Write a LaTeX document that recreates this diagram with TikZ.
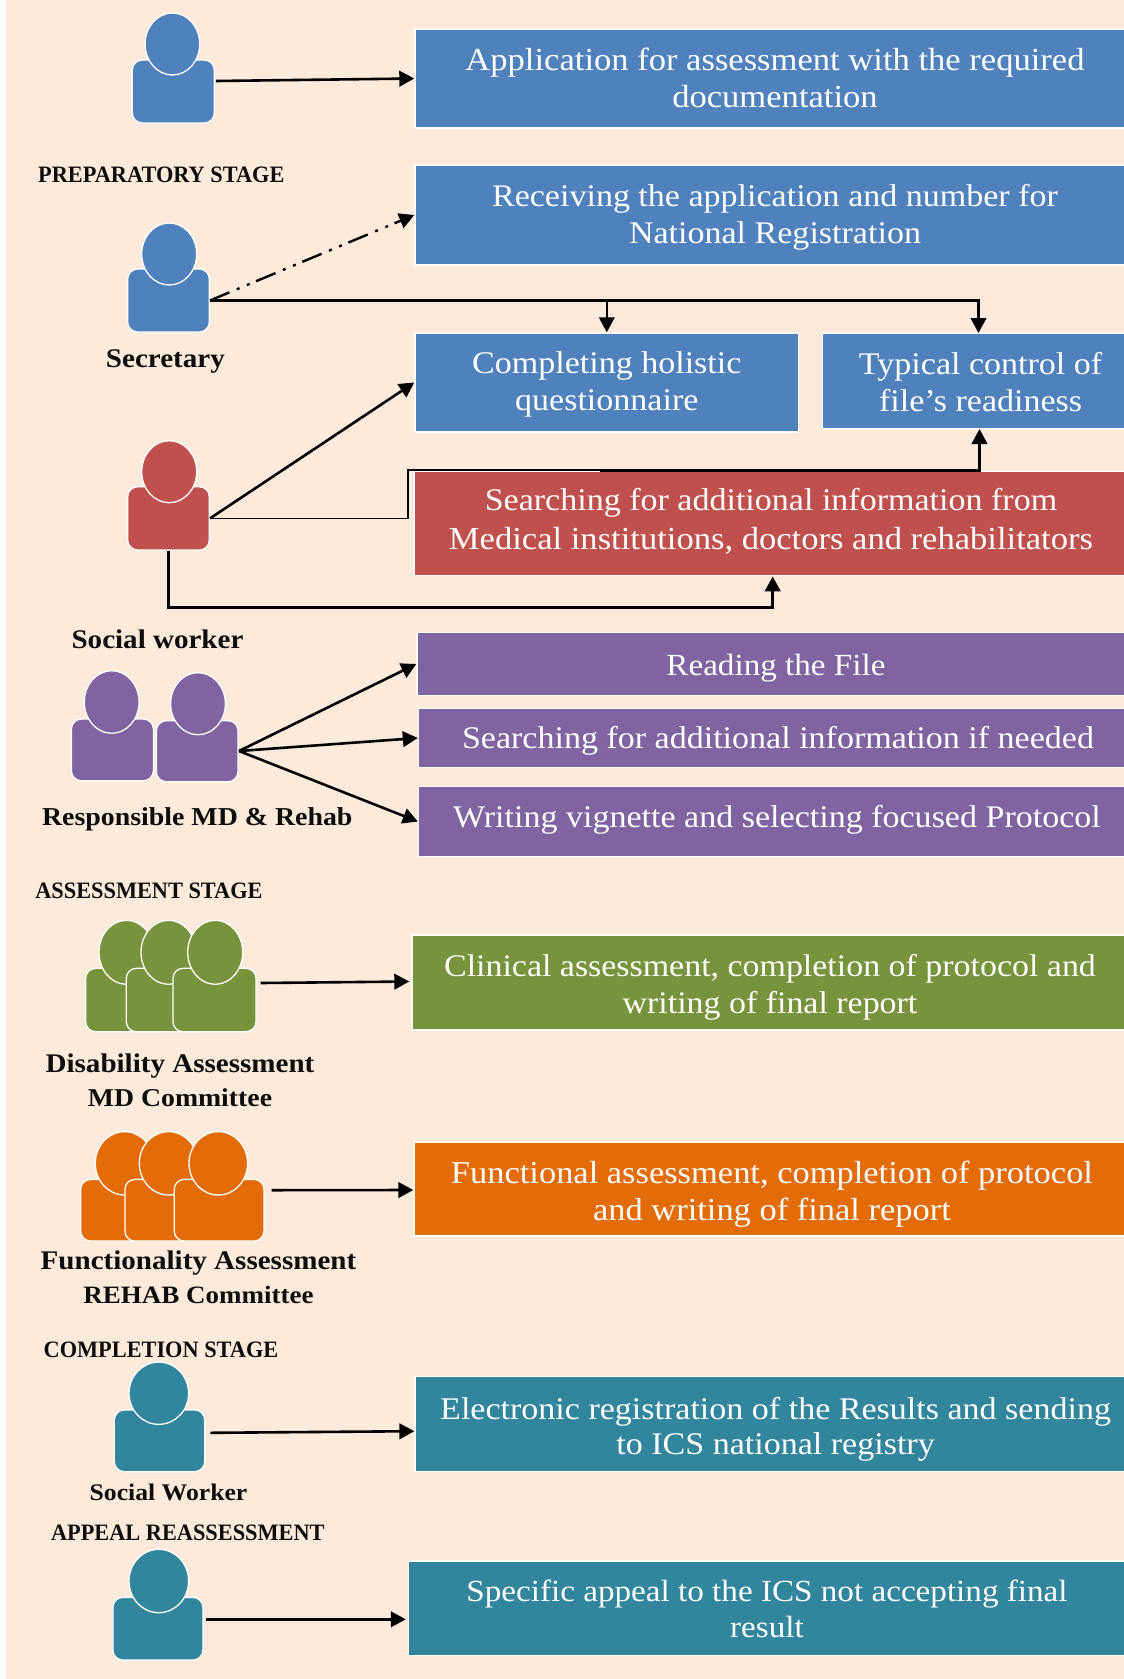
\documentclass[tikz,border=0pt]{standalone}
\usepackage{fontspec}
\setmainfont[FakeStretch=1.08]{Liberation Serif}
\newfontfamily\capsfont[FakeStretch=0.95]{Liberation Serif}
\usetikzlibrary{shapes.geometric,arrows.meta}
\definecolor{cbg}{HTML}{FDEADA}
\definecolor{cblue}{HTML}{4F81BD}
\definecolor{cred}{HTML}{C0504D}
\definecolor{cpurple}{HTML}{8064A2}
\definecolor{cgreen}{HTML}{77933C}
\definecolor{corange}{HTML}{E36C09}
\definecolor{cteal}{HTML}{31859C}
% struts fixing the vertical place of the text in a box
\newcommand\tp[1]{\rule{0pt}{\dimexpr 32.6pt+#1pt*2\relax}}
\newcommand\bt{\rule[-14pt]{0pt}{1pt}}
\newcommand\sz[1]{\fontsize{#1}{37}\selectfont}
\tikzset{
  bx/.style={rectangle,draw=white,line width=1.4pt,inner sep=0pt,align=center,text=white,
    font=\fontsize{31.5}{37}\selectfont},
  bodyb/.style={rectangle,draw=white,line width=1.3pt,inner sep=0pt,rounded corners=10pt},
  headb/.style={ellipse,draw=white,line width=1.3pt,inner sep=0pt},
  lab/.style={inner sep=0pt,align=center,text=black!95,font=\fontsize{26.9}{34}\selectfont\bfseries},
  stagelab/.style={inner sep=0pt,align=center,text=black!95,font=\fontsize{23.5}{30}\capsfont\bfseries},
  arr/.style={line width=2.6pt,-{Triangle[length=15pt,width=15.5pt]}},
  thinline/.style={line width=1.7pt},
}
\begin{document}
\begin{tikzpicture}[x=1pt,y=-1pt]
\path[use as bounding box,fill=white] (0,0) rectangle (1124,1679);
\fill[cbg] (6,0) rectangle (1124,1679);

% boxes
\node[bx,font=\sz{32},fill=cblue,minimum width=720pt,minimum height=99pt] (b1) at (775,78.5) {\tp{1.1}Application for assessment with the required\\documentation\bt};
\node[bx,fill=cblue,minimum width=720pt,minimum height=100pt] (b2) at (775,215) {\tp{0.6}Receiving the application and number for\\National Registration\bt};
\node[bx,fill=cblue,minimum width=383.6pt,minimum height=99pt] (b3) at (606.8,382.5) {\tp{0.5}Completing holistic\\questionnaire\bt};
\node[bx,fill=cblue,minimum width=316pt,minimum height=96pt] (b4) at (980.6,381) {\tp{2.6}Typical control of\\file’s readiness\bt};
\node[bx,fill=cred,minimum width=714pt,minimum height=104pt] (r1) at (771,523.7) {\tp{-3}Searching for additional information from\\[2.5pt]{\sz{32}Medical institutions, doctors and rehabilitators}\bt};
\node[bx,font=\sz{30.7},fill=cpurple,minimum width=718pt,minimum height=63pt] (m1) at (776,664) {\tp{1.7}Reading the File\bt};
\node[bx,fill=cpurple,minimum width=719pt,minimum height=59.4pt] (m2) at (778,738) {\tp{1.6}Searching for additional information if needed\bt};
\node[bx,fill=cpurple,minimum width=717pt,minimum height=70pt] (m3) at (777,821.5) {\tp{-3.8}Writing vignette and selecting focused Protocol\bt};
\node[bx,font=\sz{31.4},fill=cgreen,minimum width=716pt,minimum height=95pt] (g1) at (770,982.5) {\tp{2.7}Clinical assessment, completion of protocol and\\writing of final report\bt};
\node[bx,font=\sz{31.9},fill=corange,minimum width=716pt,minimum height=94.3pt] (o1) at (772,1189) {\tp{4}Functional assessment, completion of protocol\\and writing of final report\bt};
\node[bx,fill=cteal,minimum width=721pt,minimum height=95pt] (t1) at (775.6,1424.2) {\tp{3.2}Electronic registration of the Results and sending\\[-2pt]to ICS national registry\bt};
\node[bx,font=\sz{30.7},fill=cteal,minimum width=717pt,minimum height=94.7pt] (t2) at (767,1608.3) {\tp{2.1}Specific appeal to the ICS not accepting final\\[-1.5pt]result\bt};

% people
\node[bodyb,fill=cblue,minimum width=82pt,minimum height=63pt] (p1) at (173.3,91.5) {};
\node[headb,fill=cblue,minimum width=54.6pt,minimum height=62pt] (h1) at (172.4,44) {};
\node[bodyb,fill=cblue,minimum width=81.7pt,minimum height=63pt] (p2) at (168.5,300.5) {};
\node[headb,fill=cblue,minimum width=55pt,minimum height=62pt] (h2) at (169.2,254) {};
\node[bodyb,fill=cred,minimum width=81.7pt,minimum height=63.3pt] (p3) at (168.5,518.4) {};
\node[headb,fill=cred,minimum width=55pt,minimum height=62pt] (h3) at (169.2,471.7) {};
\node[bodyb,fill=cpurple,minimum width=82pt,minimum height=61.7pt] (p4) at (112.4,749.9) {};
\node[headb,fill=cpurple,minimum width=54.8pt,minimum height=62.6pt] (h4) at (111.7,702) {};
\node[bodyb,fill=cpurple,minimum width=81.7pt,minimum height=61pt] (p5) at (197.2,751.2) {};
\node[headb,fill=cpurple,minimum width=54.8pt,minimum height=62pt] (h5) at (198,703.7) {};
% green committee
\node[bodyb,fill=cgreen,minimum width=83pt,minimum height=63.4pt] (g1a) at (127.2,1000) {};
\node[headb,fill=cgreen,minimum width=55pt,minimum height=64pt] (g1h) at (126.5,952.3) {};
\node[bodyb,fill=cgreen,minimum width=83pt,minimum height=63.4pt] (g2a) at (167.8,1000) {};
\node[headb,fill=cgreen,minimum width=55pt,minimum height=64pt] (g2h) at (168.5,952.3) {};
\node[bodyb,fill=cgreen,minimum width=83pt,minimum height=63.4pt] (g3a) at (214.5,1000) {};
\node[headb,fill=cgreen,minimum width=55pt,minimum height=64pt] (g3h) at (215.2,952.3) {};
% orange committee
\node[bodyb,fill=corange,minimum width=89.7pt,minimum height=61.7pt] (o1a) at (125.5,1210.2) {};
\node[headb,fill=corange,minimum width=58.6pt,minimum height=63.4pt] (o1h) at (124.6,1163.3) {};
\node[bodyb,fill=corange,minimum width=89.7pt,minimum height=61.7pt] (o2a) at (169.8,1210.2) {};
\node[headb,fill=corange,minimum width=58.6pt,minimum height=63.4pt] (o2h) at (168.6,1163.3) {};
\node[bodyb,fill=corange,minimum width=89.7pt,minimum height=61.7pt] (o3a) at (219.1,1210.2) {};
\node[headb,fill=corange,minimum width=58.6pt,minimum height=63.4pt] (o3h) at (218.3,1163.3) {};
% teal
\node[bodyb,fill=cteal,minimum width=90.4pt,minimum height=61.7pt] (p6) at (159.5,1440.8) {};
\node[headb,fill=cteal,minimum width=59.6pt,minimum height=62.3pt] (h6) at (158.8,1393.2) {};
\node[bodyb,fill=cteal,minimum width=90pt,minimum height=62.7pt] (p7) at (157.9,1628.7) {};
\node[headb,fill=cteal,minimum width=59.6pt,minimum height=63.4pt] (h7) at (158.8,1581) {};

% labels
\node[stagelab] (s1) at (161.3,174.7) {PREPARATORY STAGE};
\node[lab] (l2) at (165.4,361.3) {Secretary};
\node[lab] (l3) at (157.5,639) {Social worker};
\node[lab,font=\fontsize{25.8}{34}\selectfont\bfseries] (l4) at (197.3,819.7) {Responsible MD \& Rehab};
\node[stagelab] (s2) at (149,890.6) {ASSESSMENT STAGE};
\node[lab] (l5) at (180,1080) {Disability Assessment\\{\fontsize{25.7}{34}\selectfont MD Committee}};
\node[lab] (l6) at (198.5,1277) {Functionality Assessment\\{\fontsize{25}{34}\selectfont REHAB Committee}};
\node[stagelab] (s3) at (161,1350) {COMPLETION STAGE};
\node[lab,font=\fontsize{23.8}{30}\selectfont\bfseries] (l7) at (168.5,1492) {Social Worker};
\node[stagelab] (s4) at (187.8,1533) {APPEAL REASSESSMENT};

% connectors
\coordinate (d1) at (978.5,333);
\draw[arr] ([xshift=1pt,yshift=10.5pt]p1.east) -- (b1.west);
\draw[line width=2.4pt,dash pattern=on 21pt off 8pt on 3pt off 8pt on 3pt off 7pt,-{Triangle[length=15pt,width=15.5pt]}] (p2.east) -- (b2.west);
\draw[arr,line width=2.2pt] (p2.east) -| (b3.north);
\draw[arr,line width=2.2pt] (p2.east) -| (d1);
\draw[arr] (p3.east) -- (b3.west);
\coordinate (e1) at (408,470.3);
\coordinate (e2) at (600,470.3);
\coordinate (e3) at (979.5,429);
\coordinate (e4) at (168.5,607.4);
\draw[thinline] (p3.east) -| (e1) -- (e2);
\draw[arr] (e2) -| (e3);
\draw[arr] (p3.south) -- (e4) -| ([xshift=1.7pt]r1.south);
\coordinate (fan) at (239,751);
\draw[arr] (fan) -- (m1.west);
\draw[arr] (fan) -- (m2.west);
\draw[arr] (fan) -- (m3.west);
\draw[arr] ([xshift=4pt,yshift=17pt]g3a.east) -- ([xshift=-2pt,yshift=1pt]g1.west);
\draw[arr] ([xshift=7pt,yshift=20pt]o3a.east) -- ([yshift=-1pt]o1.west);
\draw[arr] ([xshift=5pt,yshift=8pt]p6.east) -- ([yshift=-7pt]t1.west);
\draw[arr] ([xshift=2pt,yshift=9.4pt]p7.east) -- ([xshift=-2pt,yshift=-11pt]t2.west);
\end{tikzpicture}
\end{document}
